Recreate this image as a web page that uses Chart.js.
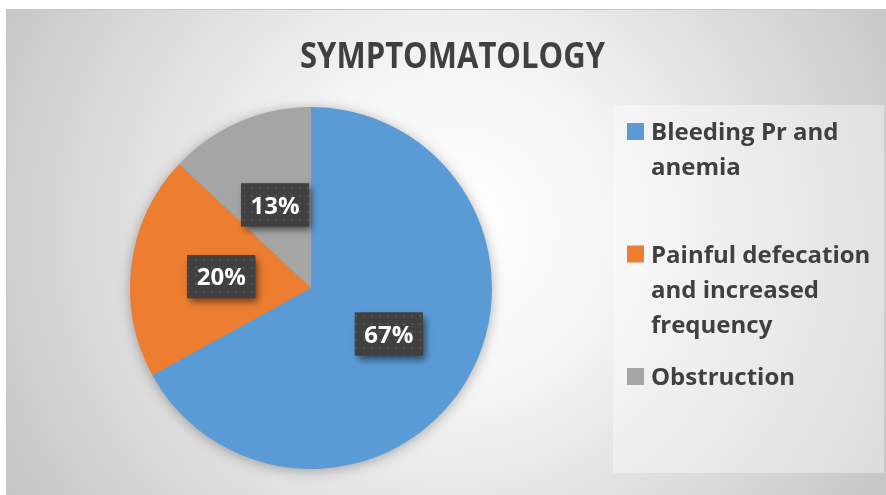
<!DOCTYPE html>
<html><head><meta charset="utf-8">
<script src="https://cdn.jsdelivr.net/npm/chart.js@4.4.1/dist/chart.umd.min.js"></script>
<style>html,body{margin:0;padding:0;background:#fff;overflow:hidden}canvas{display:block}</style>
</head><body>
<canvas id="c" width="886" height="495"></canvas>
<script>
const chartTitle = 'SYMPTOMATOLOGY';
const categories = ['Bleeding Pr and anemia', 'Painful defecation and increased frequency', 'Obstruction'];
const values = [67, 20, 13];
const colors = ['#5B9BD5', '#ED7D31', '#A5A5A5'];

const FONT = '"Open Sans", "DejaVu Sans", sans-serif';
const TEXT = '#404040';

function wrap(ctx, text, maxW) {
  const words = text.split(' ');
  const lines = [];
  let cur = '';
  for (const w of words) {
    const t = cur ? cur + ' ' + w : w;
    if (cur && ctx.measureText(t).width > maxW) { lines.push(cur); cur = w; }
    else cur = t;
  }
  if (cur) lines.push(cur);
  return lines;
}

let dotPattern = null;
function getPattern(ctx) {
  if (dotPattern) return dotPattern;
  const pc = document.createElement('canvas');
  pc.width = 8; pc.height = 8;
  const p = pc.getContext('2d');
  p.fillStyle = '#404040'; p.fillRect(0, 0, 8, 8);
  p.fillStyle = 'rgba(255,255,255,0.10)';
  p.beginPath(); p.arc(4, 4, 1.3, 0, Math.PI * 2); p.fill();
  dotPattern = ctx.createPattern(pc, 'repeat');
  return dotPattern;
}

const decor = {
  id: 'decor',
  beforeDraw(chart) {
    const ctx = chart.ctx;
    ctx.save();
    ctx.fillStyle = '#ffffff';
    ctx.fillRect(0, 0, 886, 495);
    const g = ctx.createRadialGradient(450, 230, 0, 450, 230, 520);
    g.addColorStop(0, '#ffffff');
    g.addColorStop(0.3, '#f6f6f6');
    g.addColorStop(1, '#c4c4c4');
    ctx.fillStyle = g;
    ctx.fillRect(6, 9, 880, 486);
    ctx.strokeStyle = '#c6c6c6';
    ctx.lineWidth = 1;
    ctx.beginPath();
    ctx.moveTo(6.5, 495); ctx.lineTo(6.5, 9.5); ctx.lineTo(886, 9.5);
    ctx.stroke();

    // title
    ctx.font = 'bold 32px ' + FONT;
    const w = ctx.measureText(chartTitle).width;
    ctx.translate(452.5, 68);
    ctx.scale(305 / w, 1.14);
    ctx.fillStyle = TEXT;
    ctx.textAlign = 'center';
    ctx.textBaseline = 'alphabetic';
    ctx.fillText(chartTitle, 0, 0);
    ctx.restore();
  },
  beforeDatasetsDraw(chart) {
    const arc = chart.getDatasetMeta(0).data[0];
    if (!arc) return;
    const ctx = chart.ctx;
    ctx.save();
    ctx.shadowColor = 'rgba(0,0,0,0.35)';
    ctx.shadowBlur = 14;
    ctx.shadowOffsetX = 0;
    ctx.shadowOffsetY = 2;
    ctx.fillStyle = chart.data.datasets[0].backgroundColor[0];
    ctx.beginPath();
    ctx.arc(arc.x, arc.y, arc.outerRadius - 1, 0, Math.PI * 2);
    ctx.fill();
    ctx.restore();
  },
  afterDatasetsDraw(chart) {
    const ctx = chart.ctx;
    const meta = chart.getDatasetMeta(0);
    const data = chart.data.datasets[0].data;
    const total = data.reduce((a, b) => a + b, 0);
    ctx.save();
    ctx.font = 'bold 24px ' + FONT;
    meta.data.forEach((arc, i) => {
      const pos = arc.tooltipPosition();
      const txt = Math.round(data[i] / total * 100) + '%';
      const tw = ctx.measureText(txt).width;
      const bw = tw + 19, bh = 43;
      const bx = pos.x - bw / 2, by = pos.y - bh / 2;
      ctx.save();
      ctx.shadowColor = 'rgba(0,0,0,0.55)';
      ctx.shadowBlur = 7;
      ctx.shadowOffsetX = 3;
      ctx.shadowOffsetY = 4;
      ctx.fillStyle = '#404040';
      ctx.fillRect(bx, by, bw, bh);
      ctx.restore();
      ctx.fillStyle = getPattern(ctx);
      ctx.fillRect(bx, by, bw, bh);
      ctx.fillStyle = '#ffffff';
      ctx.textAlign = 'center';
      ctx.textBaseline = 'alphabetic';
      ctx.fillText(txt, pos.x, pos.y + 8.6);
    });
    ctx.restore();
  },
  afterDraw(chart) {
    const ctx = chart.ctx;
    ctx.save();
    // legend box
    ctx.fillStyle = 'rgba(255,255,255,0.38)';
    ctx.fillRect(613, 105, 271, 368);
    ctx.font = 'bold 24px ' + FONT;
    ctx.textAlign = 'left';
    ctx.textBaseline = 'alphabetic';
    const labels = chart.data.labels;
    const bg = chart.data.datasets[0].backgroundColor;
    labels.forEach((lab, i) => {
      const base = 140 + 122.5 * i;
      ctx.fillStyle = bg[i];
      ctx.fillRect(627, base - 17, 17, 17);
      ctx.fillStyle = TEXT;
      const lines = wrap(ctx, lab, 232);
      lines.forEach((ln, j) => ctx.fillText(ln, 651, base + 35 * j));
    });
    ctx.restore();
  }
};

new Chart(document.getElementById('c'), {
  type: 'pie',
  data: {
    labels: categories,
    datasets: [{
      data: values,
      backgroundColor: colors,
      borderWidth: 0
    }]
  },
  options: {
    responsive: false,
    animation: false,
    devicePixelRatio: 1,
    layout: { padding: { left: 130, right: 394, top: 107, bottom: 26 } },
    plugins: {
      legend: { display: false },
      title: { display: false },
      tooltip: { enabled: false }
    }
  },
  plugins: [decor]
});
</script>
</body></html>
